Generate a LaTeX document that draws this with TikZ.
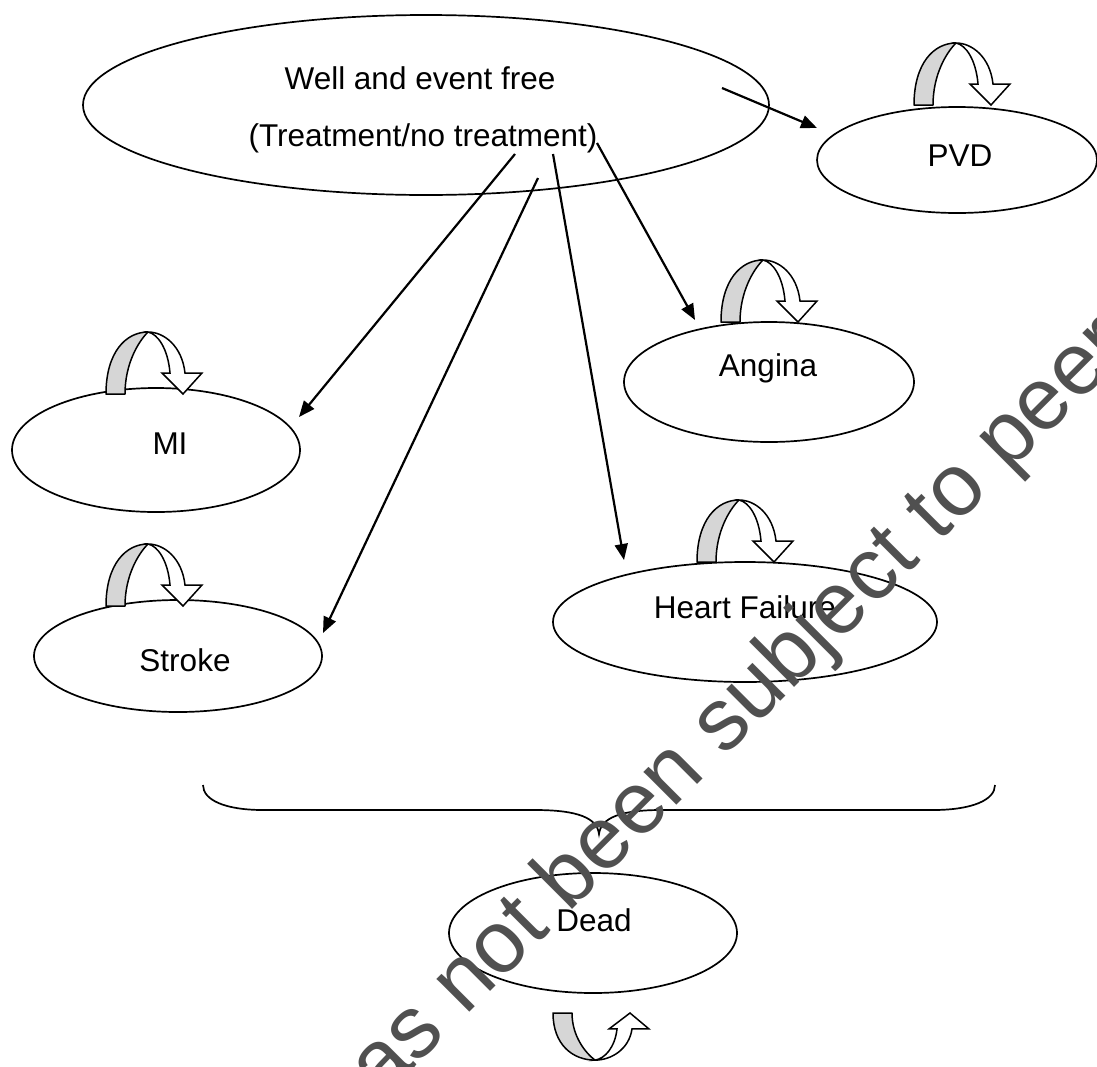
\documentclass[tikz,border=0pt]{standalone}
\usepackage{fontspec}
\setmainfont{Liberation Sans}
\usetikzlibrary{shapes.geometric,arrows.meta}
\definecolor{bandgray}{RGB}{214,214,214}
\definecolor{wmgray}{RGB}{80,80,80}
\tikzset{
  state/.style={draw, ellipse, line width=1.7pt, inner sep=0pt, outer sep=0pt},
  lbl/.style={inner sep=0pt, font=\fontsize{31.5}{36}\selectfont},
  conn/.style={line width=2.2pt, -{Triangle[length=16pt,width=13pt]}},
  wmark/.style={inner sep=0pt, text=wmgray, font=\fontsize{88}{88}\selectfont},
  % self transition: grey rising band plus white bent block arrow
  selfloop/.pic={
    \draw[line width=1.5pt, fill=bandgray, line join=round]
      (0,0) .. controls (0,-42) and (20,-62) .. (42,-62)
      .. controls (32,-52) and (19,-30) .. (19,0) -- cycle;
    \draw[line width=1.5pt, fill=white, line join=miter]
      (42,-62) .. controls (58,-62) and (76,-48) .. (79,-21)
      -- (96,-21) -- (77,0) -- (56,-21) -- (64,-21)
      .. controls (62,-45) and (52,-60) .. (42,-62) -- cycle;
  }
}
\begin{document}
\begin{tikzpicture}[x=1pt,y=-1pt]
\useasboundingbox (0,0) rectangle (1097,1066);
\clip (0,0) rectangle (1097,1066);

% states
\node[state, minimum width=686pt, minimum height=180pt] (well) at (426,105) {};
\node[state, minimum width=280pt, minimum height=106pt] (pvd) at (957,160) {};
\node[state, minimum width=290pt, minimum height=120pt] (angina) at (769,382) {};
\node[state, minimum width=384pt, minimum height=120pt] (hf) at (745,622) {};
\node[state, minimum width=288pt, minimum height=124pt] (mi) at (156,450) {};
\node[state, minimum width=288pt, minimum height=112pt] (stroke) at (178,656) {};
\node[state, minimum width=288pt, minimum height=120pt] (dead) at (593,933) {};

% labels
\node[lbl] (well-t1) at (420,78) {Well and event free};
\node[lbl] (well-t2) at (423,138) {(Treatment/no treatment)};
\node[lbl] (pvd-t) at (960,156) {PVD};
\node[lbl] (angina-t) at (768,368) {Angina};
\node[lbl] (hf-t) at (745,607) {Heart Failure};
\node[lbl] (mi-t) at (170,444) {MI};
\node[lbl] (stroke-t) at (185,660) {Stroke};
\node[lbl] (dead-t) at (594,920) {Dead};

% connector ends
\coordinate (w-pvd) at (722,88);   \coordinate (pvd-in) at (817,128);
\coordinate (w-mi) at (515,154);   \coordinate (mi-in) at (299,417);
\coordinate (w-st) at (538,178);   \coordinate (st-in) at (323,633);
\coordinate (w-hf) at (553,154);   \coordinate (hf-in) at (624,560);
\coordinate (w-an) at (597,143);   \coordinate (an-in) at (695,320);

\draw[conn] (w-pvd) -- (pvd-in);
\draw[conn] (w-mi) -- (mi-in);
\draw[conn] (w-st) -- (st-in);
\draw[conn] (w-hf) -- (hf-in);
\draw[conn] (w-an) -- (an-in);

% self transitions
\pic at (914,105) {selfloop};
\pic at (721,322) {selfloop};
\pic at (697,562) {selfloop};
\pic at (106,394) {selfloop};
\pic at (106,606) {selfloop};
\pic[yscale=-0.76] at (553,1013) {selfloop};

% brace gathering the event states into Dead
\draw[line width=1.7pt]
  (203,785) .. controls (203,800) and (225,810) .. (263,810) -- (535,810)
  .. controls (578,810) and (597,818) .. (599,834)
  .. controls (601,818) and (620,810) .. (661,810) -- (933,810)
  .. controls (972,810) and (995,800) .. (995,785);

% watermark
\node[wmark, rotate=45, anchor=base west] (wm) at (382,1100) {as not been subject to peer};
\end{tikzpicture}
\end{document}
